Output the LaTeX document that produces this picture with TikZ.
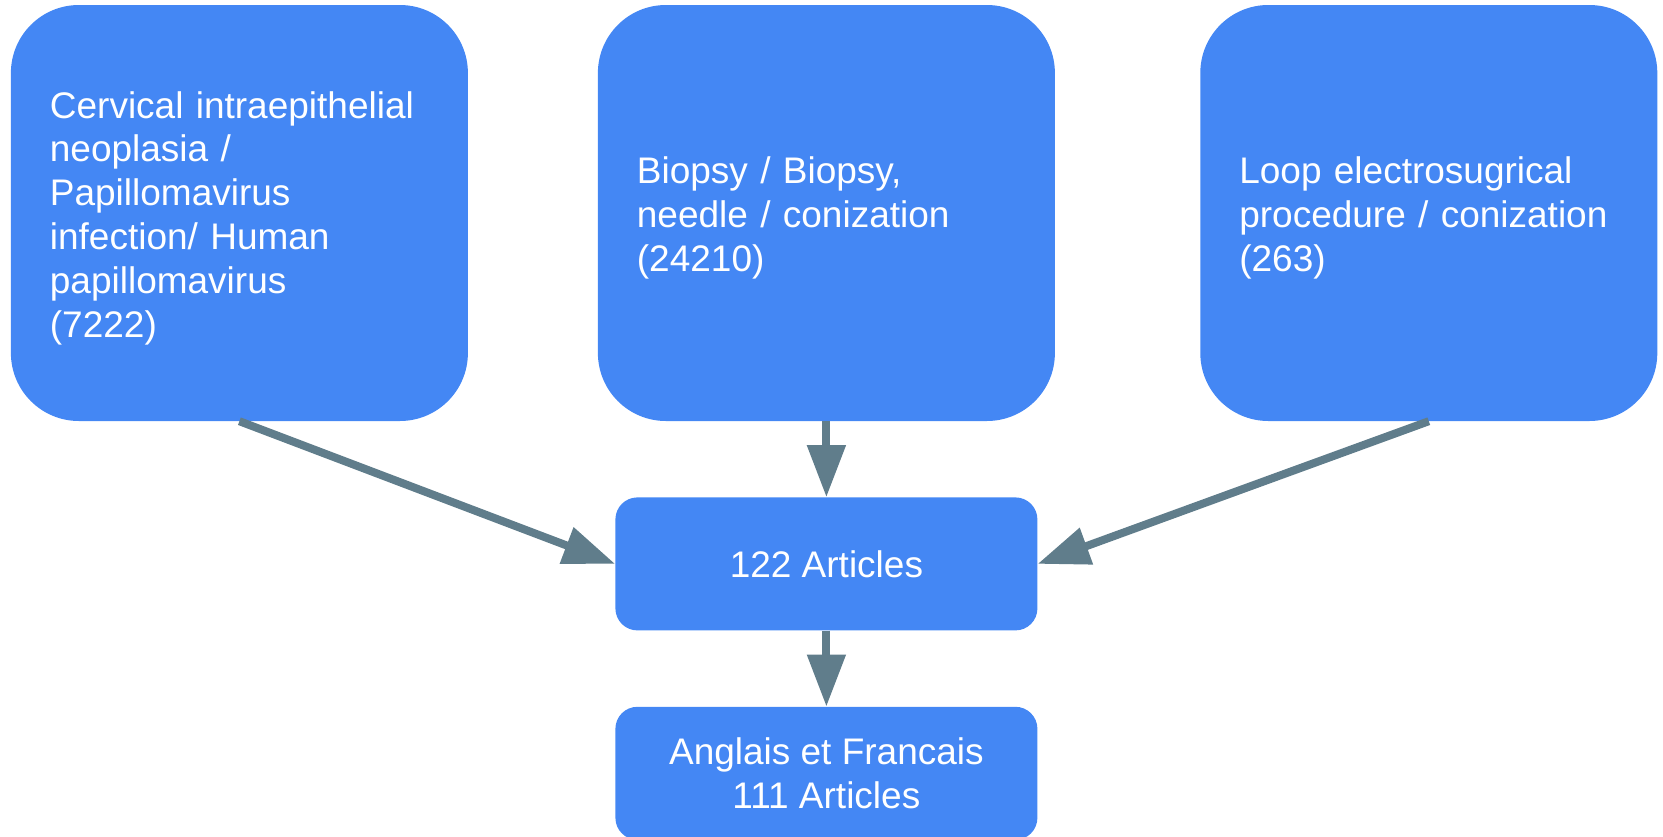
\documentclass[tikz,border=0pt]{standalone}
\usepackage{fontspec}
\setmainfont{Liberation Sans}
\usepackage{tikz}
\usetikzlibrary{positioning}
\usetikzlibrary{arrows.meta}

\definecolor{boxblue}{RGB}{68,135,244}
\definecolor{arrowgrey}{RGB}{96,125,139}

\begin{document}
\begin{tikzpicture}[node distance={76pt},
    big/.style = {fill=boxblue, rounded corners=68pt, minimum width=457pt, minimum height=416pt, text width=379pt, align=left, inner sep=0pt, text=white, font=\fontsize{37}{43.8}\selectfont, execute at begin node={\rule{0pt}{37pt}}},
    small/.style = {fill=boxblue, rounded corners=22pt, minimum width=422pt, minimum height=133pt, align=center, inner sep=0pt, text=white, font=\fontsize{37}{43.8}\selectfont},
    link/.style = {draw=arrowgrey, line width=8pt, -{Triangle[length=52pt, width=37pt]}}]
    \useasboundingbox (0pt,0pt) rectangle (1663pt,-836pt);
    \begin{scope}
    \clip (0pt,0pt) rectangle (1663pt,-836pt);
    \node[big] (cin) at (239.4pt,-213pt) {Cervical intraepithelial\\neoplasia /\\Papillomavirus\\infection/ Human\\papillomavirus\\(7222)};
    \node[big] (bio) [right=129.6pt of cin] {Biopsy / Biopsy,\\needle / conization\\(24210)};
    \node[big] (leep) [right=145pt of bio] {Loop electrosugrical\\procedure / conization\\(263)};
    \node[small] (art) [below=of bio] {122 Articles};
    \node[small] (lang) [below=of art] {Anglais et Francais\\111 Articles};

    \draw[link] (cin.south) -- (art.west);
    \draw[link] (bio) -- (art);
    \draw[link] (leep.south) -- (art.east);
    \draw[link] (art) -- (lang);
    \end{scope}
\end{tikzpicture}
\end{document}
